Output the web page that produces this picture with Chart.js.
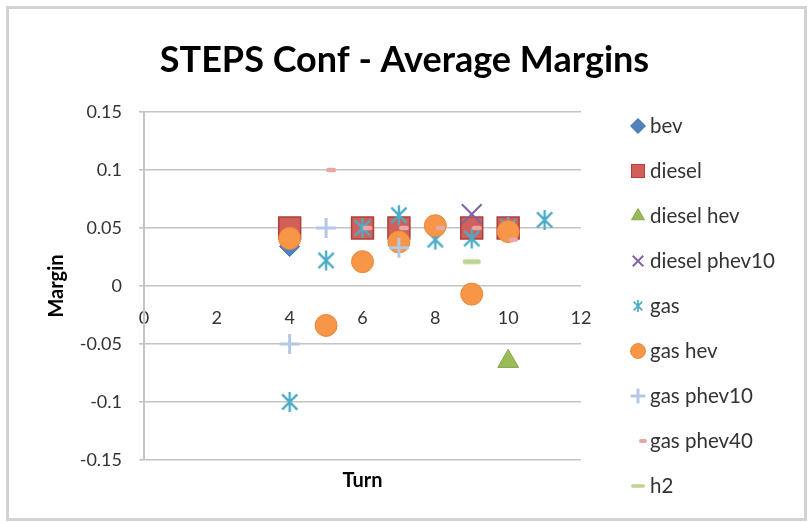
<!DOCTYPE html>
<html>
<head>
<meta charset="utf-8">
<title>STEPS Conf - Average Margins</title>
<script src="https://cdn.jsdelivr.net/npm/chart.js@4"></script>
<style>
  html, body { margin: 0; padding: 0; background: #ffffff; }
  #wrap { width: 809px; height: 523px; position: relative; }
  canvas { display: block; }
</style>
</head>
<body>
<div id="wrap"><canvas id="chart" width="809" height="523"></canvas></div>
<script>
// Series names, in legend order
const seriesNames = ['bev', 'diesel', 'diesel hev', 'diesel phev10', 'gas', 'gas hev', 'gas phev10', 'gas phev40', 'h2'];

// [turn, margin] pairs for each series
const bev          = [[4, 0.034]];
const diesel       = [[4, 0.05], [6, 0.05], [7, 0.05], [9, 0.05], [10, 0.05]];
const dieselHev    = [[10, -0.065]];
const dieselPhev10 = [[9, 0.062]];
const gas          = [[4, -0.1], [5, 0.022], [6, 0.05], [7, 0.061], [8, 0.04], [9, 0.041], [10, 0.051], [11, 0.057]];
const gasHev       = [[4, 0.041], [5, -0.034], [6, 0.021], [7, 0.038], [8, 0.052], [9, -0.007], [10, 0.047]];
const gasPhev10    = [[4, -0.05], [5, 0.05], [7, 0.033]];
const gasPhev40    = [[5, 0.1], [6, 0.05], [7, 0.05], [8, 0.05], [9, 0.05], [10, 0.04]];
const h2           = [[9, 0.021]];

// Axis ticks
const xTicks = [0, 2, 4, 6, 8, 10, 12];
const yTicks = [-0.15, -0.1, -0.05, 0, 0.05, 0.1, 0.15];
const yTickLabels = ['-0.15', '-0.1', '-0.05', '0', '0.05', '0.1', '0.15'];

const FONT = 'Lato, "Open Sans", "DejaVu Sans", sans-serif';

// Small canvases used as custom point markers
function markerCanvas(w, h, paint) {
  const c = document.createElement('canvas');
  c.width = w; c.height = h;
  paint(c.getContext('2d'), w, h);
  return c;
}
function starMarker(size, lw, color) {
  return markerCanvas(size, size, (ctx, w, h) => {
    const m = lw + 1;
    ctx.strokeStyle = color;
    ctx.lineWidth = lw;
    ctx.lineCap = 'butt';
    ctx.beginPath();
    ctx.moveTo(m, m); ctx.lineTo(w - m, h - m);
    ctx.moveTo(w - m, m); ctx.lineTo(m, h - m);
    ctx.moveTo(w / 2, 1); ctx.lineTo(w / 2, h - 1);
    ctx.stroke();
  });
}
function dashMarker(w, h, x0, len, thick, color) {
  return markerCanvas(w, h, (ctx) => {
    ctx.fillStyle = color;
    const y0 = (h - thick) / 2;
    ctx.beginPath();
    if (ctx.roundRect) ctx.roundRect(x0, y0, len, thick, thick / 2);
    else ctx.rect(x0, y0, len, thick);
    ctx.fill();
  });
}
function squareMarker(size, fill, stroke) {
  return markerCanvas(size, size, (ctx, w, h) => {
    ctx.fillStyle = fill;
    ctx.fillRect(0, 0, w, h);
    ctx.strokeStyle = stroke;
    ctx.lineWidth = 1;
    ctx.strokeRect(0.5, 0.5, w - 1, h - 1);
  });
}

const gasStar       = starMarker(22, 2.4, '#4bacc6');
const gasStarSmall  = starMarker(14, 1.7, '#4bacc6');
const phev40Dash    = dashMarker(22, 8, 11, 10, 4.5, '#e8a6a5');
const phev40Legend  = dashMarker(22, 8, 12, 8, 4, '#e8a6a5');
const h2Dash        = dashMarker(22, 8, 2, 18, 5, '#bdd493');
const h2Legend      = dashMarker(16, 6, 1, 14, 3.5, '#bdd493');
const dieselLegend  = squareMarker(14, '#d35f5b', '#b0413d');

const toPoints = (pairs) => pairs.map(([x, y]) => ({ x, y }));

const seriesData = [bev, diesel, dieselHev, dieselPhev10, gas, gasHev, gasPhev10, gasPhev40, h2];
const seriesStyle = [
  { pointStyle: 'rectRot',  pointRadius: 10,   backgroundColor: '#4f81bd', borderColor: '#3e6ca6', borderWidth: 1 },
  { pointStyle: 'rect',     pointRadius: 15.5, backgroundColor: '#d35f5b', borderColor: '#a8403c', borderWidth: 1.5 },
  { pointStyle: 'triangle', pointRadius: 12,   backgroundColor: '#9bbb59', borderColor: '#87a548', borderWidth: 1 },
  { pointStyle: 'crossRot', pointRadius: 14,   backgroundColor: '#8064a2', borderColor: '#8064a2', borderWidth: 2 },
  { pointStyle: gasStar,    pointRadius: 11,   backgroundColor: '#4bacc6', borderColor: '#4bacc6', borderWidth: 2 },
  { pointStyle: 'circle',   pointRadius: 11,   backgroundColor: '#f79646', borderColor: '#e8883b', borderWidth: 1 },
  { pointStyle: 'cross',    pointRadius: 10,   backgroundColor: '#b4c8e4', borderColor: '#b4c8e4', borderWidth: 3 },
  { pointStyle: phev40Dash, pointRadius: 6,    backgroundColor: '#e8a6a5', borderColor: '#e8a6a5', borderWidth: 1 },
  { pointStyle: h2Dash,     pointRadius: 9,    backgroundColor: '#bdd493', borderColor: '#bdd493', borderWidth: 1 }
];
// Legend swatches that differ from the plotted markers
const legendSwatch = { 1: dieselLegend, 4: gasStarSmall, 7: phev40Legend, 8: h2Legend };

const datasets = seriesNames.map((name, i) => Object.assign({
  label: name,
  data: toPoints(seriesData[i]),
  showLine: false,
  order: -i,               // later series are painted on top
  xAxisID: 'x',
  yAxisID: 'y'
}, seriesStyle[i]));

// Fixed geometry of the plot
const LEGEND_WIDTH = 197.25;

const framePlugin = {
  id: 'frame',
  beforeDraw(chart) {
    const ctx = chart.ctx;
    ctx.save();
    ctx.fillStyle = '#ffffff';
    ctx.fillRect(0, 0, chart.width, chart.height);
    ctx.strokeStyle = '#d2d2d2';
    ctx.lineWidth = 3;
    ctx.strokeRect(7.5, 7.5, 798, 512);
    ctx.restore();
  }
};

const legendWidthPlugin = {
  id: 'legendWidth',
  beforeLayout(chart) {
    const lg = chart.legend;
    if (lg && !lg._fixedWidth) {
      const fit = lg.fit.bind(lg);
      lg.fit = function () { fit(); this.width = LEGEND_WIDTH; };
      lg._fixedWidth = true;
    }
  }
};

new Chart(document.getElementById('chart'), {
  type: 'scatter',
  data: { datasets },
  plugins: [framePlugin, legendWidthPlugin],
  options: {
    responsive: false,
    animation: false,
    events: [],
    layout: { padding: { left: 0, right: 0, top: 0, bottom: 2.25 } },
    plugins: {
      tooltip: { enabled: false },
      title: {
        display: true,
        text: 'STEPS Conf - Average Margins',
        color: '#000000',
        font: { family: FONT, size: 36, weight: 'bold', lineHeight: 1.2 },
        padding: { top: 38.4, bottom: 30.4 }
      },
      legend: {
        position: 'right',
        align: 'end',
        labels: {
          usePointStyle: true,
          boxWidth: 3.5,
          boxHeight: 10.5,
          padding: 24.5,
          color: '#333333',
          font: { family: FONT, size: 20.5 },
          sort: (a, b) => a.datasetIndex - b.datasetIndex,
          generateLabels(chart) {
            const items = Chart.defaults.plugins.legend.labels.generateLabels(chart);
            items.forEach((it) => {
              if (legendSwatch[it.datasetIndex]) it.pointStyle = legendSwatch[it.datasetIndex];
            });
            return items;
          }
        }
      }
    },
    scales: {
      x: {
        type: 'linear',
        position: { y: 0 },
        min: 0,
        max: 12,
        afterBuildTicks: (s) => { s.ticks = xTicks.map((v) => ({ value: v })); },
        grid: { display: false, drawTicks: false },
        border: { display: false },
        ticks: {
          padding: 21,
          color: '#333333',
          font: { family: FONT, size: 18 },
          callback: (v) => String(v)
        }
      },
      xt: {
        type: 'linear',
        axis: 'x',
        position: 'bottom',
        min: 0,
        max: 12,
        grid: { display: false, drawTicks: false },
        border: { display: false },
        ticks: { display: false },
        title: {
          display: true,
          text: 'Turn',
          color: '#000000',
          font: { family: FONT, size: 20, weight: 'bold', lineHeight: 1.2 },
          padding: { top: 0, bottom: 27.75 }
        },
        afterFit: (s) => { s.height = 60.75; }
      },
      y: {
        type: 'linear',
        position: 'left',
        min: -0.15,
        max: 0.15,
        afterBuildTicks: (s) => { s.ticks = yTicks.map((v) => ({ value: v })); },
        grid: { color: '#c4c4c4', lineWidth: 1.6, tickLength: 5, drawTicks: true },
        border: { display: true, color: '#c4c4c4', width: 2 },
        ticks: {
          padding: 17,
          color: '#333333',
          font: { family: FONT, size: 18 },
          callback: (v, i) => yTickLabels[i]
        },
        title: {
          display: true,
          text: 'Margin',
          color: '#000000',
          font: { family: FONT, size: 20, weight: 'bold', lineHeight: 1.2 },
          padding: { top: 45, bottom: 0 }
        },
        afterFit: (s) => { s.width = 144; }
      },
      yr: {
        type: 'linear',
        axis: 'y',
        position: 'right',
        min: -0.15,
        max: 0.15,
        grid: { display: false, drawTicks: false },
        border: { display: false },
        ticks: { display: false },
        afterFit: (s) => { s.width = 30.75; }
      }
    }
  }
});
</script>
</body>
</html>
